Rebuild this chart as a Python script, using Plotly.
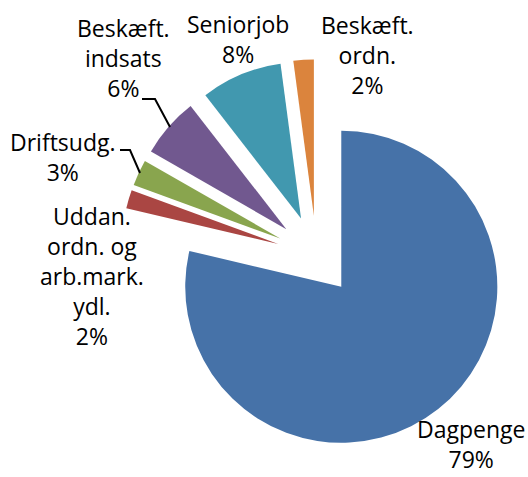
import plotly.graph_objects as go

# ---- data ----
categories = ["Dagpenge", "Uddan. ordn. og arb.mark. ydl.", "Driftsudg.",
              "Beskæft. indsats", "Seniorjob", "Beskæft. ordn."]
values = [78.6, 1.9, 2.7, 6.2, 8.4, 2.1]
display_labels = ["Dagpenge", "Uddan.<br>ordn. og<br>arb.mark.<br>ydl.", "Driftsudg.",
                  "Beskæft.<br>indsats", "Seniorjob", "Beskæft.<br>ordn."]
colors = ["#4672A8", "#AA4643", "#89A54E", "#71588F", "#4198AF", "#DB843D"]

W, H = 528, 477
total = sum(values)
percents = [round(v / total * 100) for v in values]

fig = go.Figure(go.Pie(
    labels=categories, values=values, sort=False, direction="clockwise", rotation=0,
    pull=[0.256] * len(values),
    marker=dict(colors=colors, line=dict(width=0)),
    textinfo="none", hoverinfo="label+percent", showlegend=False,
    domain=dict(x=[0.1994, 0.9994], y=[0.0537, 0.8755]),
))

def px2paper(x, y):
    return x / W, 1 - y / H

# label placement (pixel centres) and leader lines
label_pos_px = [(471, 444), (92, 276), (63, 157), (123, 58), (238, 39), (367, 55)]
FONT = dict(family="Open Sans", size=23, color="#000000")
for lab, pc, (px, py) in zip(display_labels, percents, label_pos_px):
    ax, ay = px2paper(px, py)
    fig.add_annotation(text=f"{lab}<br>{pc}%", x=ax, y=ay, xref="paper", yref="paper",
                       xanchor="center", yanchor="middle", showarrow=False, font=FONT, align="center")

leaders_px = [[(142, 99), (155, 99), (170, 127)], [(120, 150), (130, 150), (140, 173)]]
for pts in leaders_px:
    path = "M " + " L ".join("{},{}".format(*px2paper(x, y)) for x, y in pts)
    fig.add_shape(type="path", path=path, xref="paper", yref="paper",
                  line=dict(color="#000000", width=2))

fig.update_layout(width=W, height=H, margin=dict(l=0, r=0, t=0, b=0),
                  paper_bgcolor="white", plot_bgcolor="white")
fig.write_html("out.html", config={"displayModeBar": False},
               post_script="document.body.style.margin='0';document.body.style.overflow='hidden';")
